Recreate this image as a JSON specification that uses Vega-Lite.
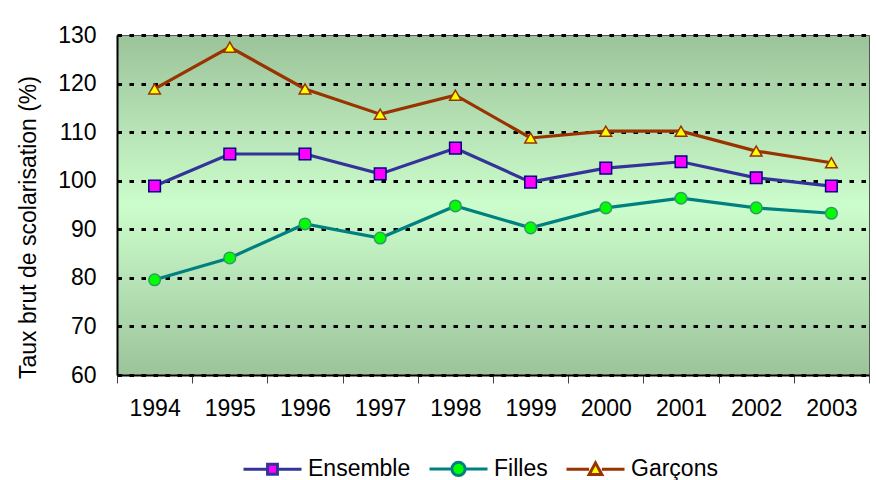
{
  "$schema": "https://vega.github.io/schema/vega-lite/v6.json",
  "width": 752,
  "height": 340,
  "autosize": {"type": "none"},
  "padding": {"left": 117, "top": 35, "right": 7, "bottom": 105},
  "background": "white",
  "config": {
    "font": "Liberation Sans",
    "view": {
      "fill": {
        "gradient": "linear", "x1": 0, "y1": 0, "x2": 0, "y2": 1,
        "stops": [
          {"offset": 0, "color": "#9cc39a"},
          {"offset": 0.5, "color": "#ccfdcc"},
          {"offset": 1, "color": "#9cc39a"}
        ]
      },
      "stroke": "#555555",
      "strokeWidth": 1
    }
  },
  "data": {
    "values": [
      {"year": "1994", "series": "Ensemble", "value": 98.9},
      {"year": "1995", "series": "Ensemble", "value": 105.5},
      {"year": "1996", "series": "Ensemble", "value": 105.5},
      {"year": "1997", "series": "Ensemble", "value": 101.4},
      {"year": "1998", "series": "Ensemble", "value": 106.7},
      {"year": "1999", "series": "Ensemble", "value": 99.7},
      {"year": "2000", "series": "Ensemble", "value": 102.6},
      {"year": "2001", "series": "Ensemble", "value": 103.9},
      {"year": "2002", "series": "Ensemble", "value": 100.6},
      {"year": "2003", "series": "Ensemble", "value": 98.9},
      {"year": "1994", "series": "Filles", "value": 79.6},
      {"year": "1995", "series": "Filles", "value": 84.1},
      {"year": "1996", "series": "Filles", "value": 91.1},
      {"year": "1997", "series": "Filles", "value": 88.2},
      {"year": "1998", "series": "Filles", "value": 94.8},
      {"year": "1999", "series": "Filles", "value": 90.3},
      {"year": "2000", "series": "Filles", "value": 94.4},
      {"year": "2001", "series": "Filles", "value": 96.4},
      {"year": "2002", "series": "Filles", "value": 94.4},
      {"year": "2003", "series": "Filles", "value": 93.3},
      {"year": "1994", "series": "Garçons", "value": 118.9},
      {"year": "1995", "series": "Garçons", "value": 127.5},
      {"year": "1996", "series": "Garçons", "value": 118.9},
      {"year": "1997", "series": "Garçons", "value": 113.7},
      {"year": "1998", "series": "Garçons", "value": 117.6},
      {"year": "1999", "series": "Garçons", "value": 108.8},
      {"year": "2000", "series": "Garçons", "value": 110.2},
      {"year": "2001", "series": "Garçons", "value": 110.2},
      {"year": "2002", "series": "Garçons", "value": 106.1},
      {"year": "2003", "series": "Garçons", "value": 103.7}
    ]
  },
  "encoding": {
    "x": {
      "field": "year", "type": "ordinal",
      "scale": {"type": "band", "paddingInner": 0, "paddingOuter": 0},
      "axis": {
        "title": null, "labelAngle": 0, "tickBand": "extent", "tickSize": 8,
        "tickColor": "#444444", "domainColor": "black", "domainWidth": 2,
        "labelFontSize": 23, "labelPadding": 14, "labelColor": "black", "grid": false
      }
    },
    "y": {
      "field": "value", "type": "quantitative",
      "scale": {"domain": [60, 130], "nice": false, "zero": false},
      "axis": {
        "title": "Taux brut de scolarisation (%)",
        "values": [60, 70, 80, 90, 100, 110, 120, 130],
        "grid": true, "gridColor": "black", "gridDash": [4.5, 7.5], "gridWidth": 3, "gridOpacity": 1,
        "ticks": false, "labelPadding": 21, "labelFontSize": 23, "labelColor": "black",
        "domainColor": "black", "domainWidth": 2,
        "titleFontSize": 23, "titleFontWeight": "normal", "titleColor": "black",
        "titleX": -77, "titleY": 192
      }
    }
  },
  "layer": [
    {
      "mark": {"type": "line", "strokeWidth": 3.2},
      "encoding": {
        "color": {
          "field": "series", "type": "nominal",
          "scale": {"domain": ["Ensemble", "Filles", "Garçons"], "range": ["#333399", "#008080", "#993300"]},
          "legend": {
            "title": null, "orient": "none", "legendX": 125, "legendY": 403,
            "direction": "horizontal", "padding": 0,
            "symbolSize": 3364, "symbolStrokeWidth": 3,
            "labelFontSize": 23, "labelColor": "black", "labelOffset": 5, "columnPadding": 12,
            "encode": {
              "symbols": {
                "update": {
                  "shape": {"signal": "datum.value === 'Ensemble' ? 'M-1,0H-0.17M0.17,0H1M-0.17,-0.17H0.17V0.17H-0.17Z' : datum.value === 'Filles' ? 'M-1,0H-0.23M0.23,0H1M0.23,0A0.23,0.23 0 1 1 -0.23,0A0.23,0.23 0 1 1 0.23,0Z' : 'M-1,0H-0.22M0.22,0H1M0,-0.22L0.22,0.18H-0.22Z'"},
                  "fill": {"signal": "datum.value === 'Ensemble' ? '#ff00ff' : datum.value === 'Filles' ? '#00ff00' : '#ffff00'"},
                  "strokeWidth": {"value": 3},
                  "opacity": {"value": 1},
                  "fillOpacity": {"value": 1},
                  "strokeOpacity": {"value": 1},
                  "size": {"value": 3364}
                }
              }
            }
          }
        }
      }
    },
    {
      "mark": {"type": "point", "filled": true, "strokeWidth": 1.5, "opacity": 1, "size": 135},
      "encoding": {
        "shape": {
          "field": "series", "type": "nominal",
          "scale": {"domain": ["Filles", "Ensemble", "Garçons"], "range": ["circle", "square", "triangle-up"]},
          "legend": null
        },
        "fill": {
          "field": "series", "type": "nominal",
          "scale": {"domain": ["Filles", "Ensemble", "Garçons"], "range": ["#00ff00", "#ff00ff", "#ffff00"]},
          "legend": null
        },
        "stroke": {
          "field": "series", "type": "nominal",
          "scale": {"domain": ["Filles", "Ensemble", "Garçons"], "range": ["#339966", "#000080", "#993300"]},
          "legend": null
        }
      }
    }
  ]
}
